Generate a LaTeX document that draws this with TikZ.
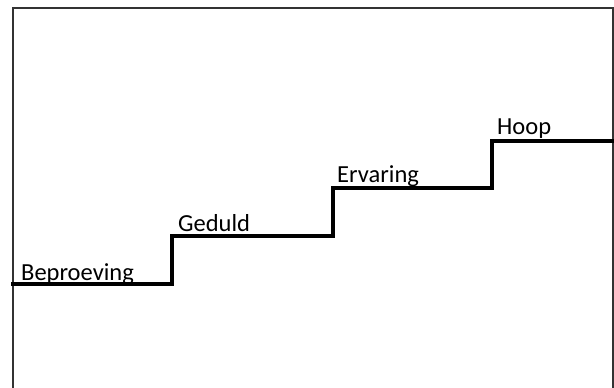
\documentclass[tikz,border=0pt]{standalone}
\usepackage{fontspec}
\setmainfont{Carlito}
\begin{document}
\begin{tikzpicture}[x=1pt,y=1pt]
    \useasboundingbox (0,0) rectangle (614,388);
    \tikzset{frame/.style={gray!40!black,line width=2pt},
             stair/.style={black,line width=3.2pt,line cap=rect},
             steplabel/.style={anchor=base west,inner sep=0pt,font=\fontsize{24.5}{24.5}\selectfont}}

    \draw [frame] (12.5,0)--(12.5,380)--(612.5,380)--(612.5,0);

    \coordinate (s0) at (12.5,104);
    \coordinate (s1) at (172,104);
    \coordinate (s2) at (172,152);
    \coordinate (s3) at (333,152);
    \coordinate (s4) at (333,200);
    \coordinate (s5) at (492,200);
    \coordinate (s6) at (492,247);
    \coordinate (s7) at (612.5,247);
    \draw [stair] (s0)--(s1)--(s2)--(s3)--(s4)--(s5)--(s6)--(s7);

    \node [steplabel] (beproeving) at (21,107) {Beproeving};
    \node [steplabel] (geduld) at (178,156) {Geduld};
    \node [steplabel] (ervaring) at (337,205) {Ervaring};
    \node [steplabel] (hoop) at (497,253) {Hoop};
\end{tikzpicture}
\end{document}
